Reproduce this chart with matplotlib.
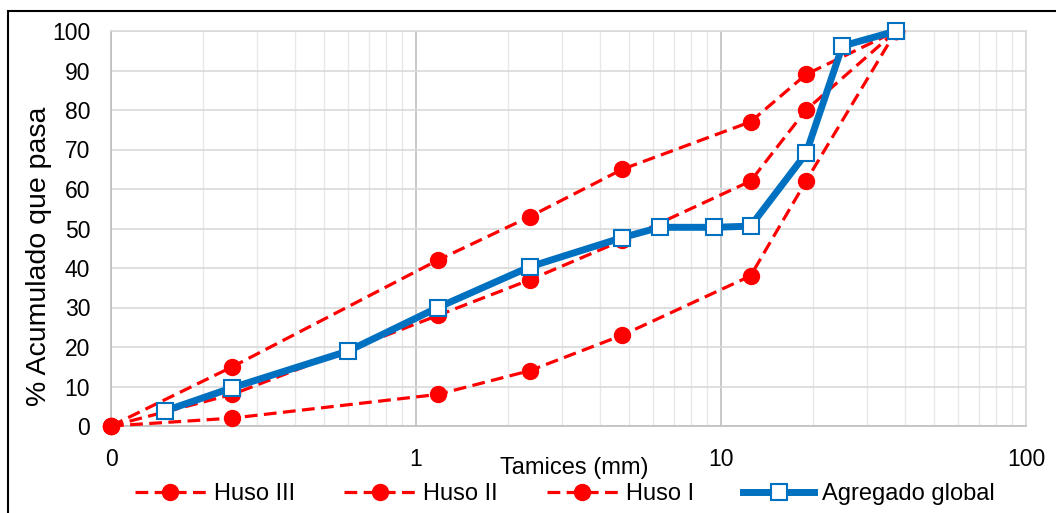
import matplotlib
matplotlib.use("Agg")
import matplotlib.pyplot as plt
from matplotlib.patches import Rectangle
from matplotlib.ticker import FixedLocator, NullFormatter

plt.rcParams['font.family'] = ['Liberation Sans', 'DejaVu Sans']

# sieve openings (mm) and % passing
huso_sizes = [0.1, 0.25, 1.18, 2.36, 4.75, 12.5, 19, 37.5]
huso_iii = [0, 15, 42, 53, 65, 77, 89, 100]
huso_ii = [0, 8, 28, 37, 47, 62, 80, 100]
huso_i = [0, 2, 8, 14, 23, 38, 62, 100]

global_sizes = [0.15, 0.25, 0.6, 1.18, 2.36, 4.75, 6.3, 9.5, 12.5, 19, 25, 37.5]
global_pass = [3.8, 9.7, 19, 30, 40.3, 47.7, 50.3, 50.3, 50.6, 69, 96.2, 100]

x_ticks = [0.1, 1, 10, 100]
x_tick_labels = ["0", "1", "10", "100"]
y_ticks = list(range(0, 101, 10))

RED = "#ff0000"
BLUE = "#0070c0"

fig = plt.figure(figsize=(10.56, 5.13), dpi=100)
ax = fig.add_axes([111 / 1056, 1 - 426 / 513, (1026 - 111) / 1056, (426 - 31) / 513])

# outer chart border
fig.patches.append(Rectangle((8 / 1056, -0.05), 1.1, 1 - 11.5 / 513 + 0.05,
                             transform=fig.transFigure, fill=False,
                             edgecolor="black", lw=1.5))

red_style = dict(color=RED, lw=2.3, linestyle=(0, (4, 2)), marker="o",
                 markersize=11.5, clip_on=False, zorder=3)
ax.plot(huso_sizes, huso_iii, label="Huso III", **red_style)
ax.plot(huso_sizes, huso_ii, label="Huso II", **red_style)
ax.plot(huso_sizes, huso_i, label="Huso I", **red_style)
ax.plot(global_sizes, global_pass, color=BLUE, lw=5, marker="s", markersize=11,
        markerfacecolor="white", markeredgecolor=BLUE, markeredgewidth=1.5,
        label="Agregado global", clip_on=False, zorder=4)

ax.set_xscale("log")
ax.set_xlim(0.1, 100)
ax.set_ylim(0, 100)
ax.xaxis.set_major_locator(FixedLocator(x_ticks))
ax.set_xticklabels(x_tick_labels)
ax.xaxis.set_minor_locator(FixedLocator([m * d for d in (0.1, 1, 10) for m in range(2, 10)]))
ax.xaxis.set_minor_formatter(NullFormatter())
ax.set_yticks(y_ticks)

ax.grid(True, which="major", axis="x", color="#bfbfbf", lw=1.2)
ax.grid(True, which="minor", axis="x", color="#e8e8e8", lw=1)
ax.grid(True, which="major", axis="y", color="#d9d9d9", lw=1.2)
ax.set_axisbelow(True)
for s in ("top", "right"):
    ax.spines[s].set_color("#d9d9d9")
for s in ("left", "bottom"):
    ax.spines[s].set_color("#bfbfbf")
for s in ax.spines.values():
    s.set_linewidth(1.2)

ax.tick_params(which="both", length=0, labelsize=16.5, colors="black")
ax.tick_params(axis="x", pad=15.5)
ax.tick_params(axis="y", pad=15)

ax.set_xlabel("Tamices (mm)", fontsize=17)
ax.xaxis.set_label_coords(0.5066, -0.106)
ax.xaxis.label.set_va("center")
ax.set_ylabel("% Acumulado que pasa", fontsize=20.5)
ax.yaxis.set_label_coords(-0.0787, 0.43)
ax.yaxis.label.set_va("center")

ax.legend(loc="center", bbox_to_anchor=(0.496, -0.172), ncol=4, frameon=False,
          fontsize=17, handlelength=3.0, columnspacing=2.1, handletextpad=0.33,
          borderaxespad=0, borderpad=0)

fig.savefig("out.png", dpi=100)
